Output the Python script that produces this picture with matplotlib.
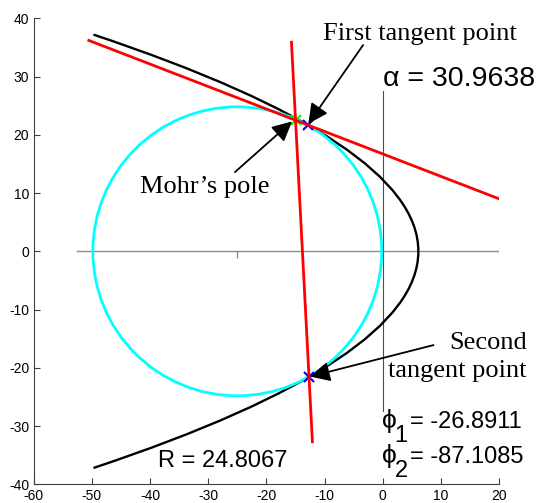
"""Mohr circle with failure envelope, tangent lines and Mohr's pole."""

import matplotlib
matplotlib.use("Agg")
import matplotlib.pyplot as plt
from matplotlib.patches import Circle, PathPatch
from matplotlib.path import Path

plt.rcParams["axes.unicode_minus"] = False

# ---- DATA ----------------------------------------------------------------
circle_center = (-25.0, 0.0)
circle_radius = 24.8067

# envelope (a parabola): its two end points and its apex
env_top = (-49.7, 37.2)
env_apex = (6.1, 0.0)
env_bottom = (-49.7, -37.2)

# red tangent lines, end points
line1_x = [-50.5, 20.5]
line1_y = [36.2, 8.8]
line2_x = [-15.7, -12.1]
line2_y = [35.9, -32.7]

tangent_x = [-12.8, -12.7]
tangent_y = [21.7, -21.5]
pole_x = [-15.0]
pole_y = [22.6]

# thin reference lines
axis_x = [-52.5, 20.0]
axis_y = [0.0, 0.0]
vline_x = [0.0, 0.0]
vline_y = [-27.5, 27.6]

alpha = 30.9638
radius_label = 24.8067
phi1 = -26.8911
phi2 = -87.1085

xticks = list(range(-60, 21, 10))
yticks = list(range(-40, 41, 10))

SANS = ["Liberation Sans", "DejaVu Sans"]
SERIF = ["Liberation Serif", "DejaVu Serif"]


def parabola_path(p0, apex, p2):
    """Quadratic Bezier through p0, apex (at t=0.5) and p2."""
    ctrl = (2 * apex[0] - 0.5 * (p0[0] + p2[0]),
            2 * apex[1] - 0.5 * (p0[1] + p2[1]))
    return Path([p0, ctrl, p2], [Path.MOVETO, Path.CURVE3, Path.CURVE3])


# ---- PLOT ----------------------------------------------------------------
fig = plt.figure(figsize=(5.38, 5.03), dpi=100)
ax = fig.add_axes([0.0623, 0.0372, 0.8658, 0.9264])

ax.plot(axis_x, axis_y, color="0.55", lw=1.0, zorder=1)
ax.plot([circle_center[0]], [circle_center[1]], marker=3, color="0.55",
        ms=5, mew=1.0, zorder=1)
ax.plot(vline_x, vline_y, color="0.3", lw=0.8, zorder=1)

ax.add_patch(PathPatch(parabola_path(env_top, env_apex, env_bottom),
                       fill=False, ec="k", lw=1.7, zorder=2))
ax.add_patch(Circle(circle_center, circle_radius, fill=False, ec="cyan",
                    lw=2.0, zorder=3))
ax.plot(tangent_x, tangent_y, "x", color="blue", ms=7, mew=1.5, zorder=4)
ax.plot(pole_x, pole_y, "x", color="#00ff00", ms=7, mew=1.5, zorder=4)
ax.plot(line1_x, line1_y, color="red", lw=2.0, zorder=5)
ax.plot(line2_x, line2_y, color="red", lw=2.0, zorder=5)

arrow = dict(arrowstyle="-|>,head_length=0.6,head_width=0.3",
             mutation_scale=20, lw=1.3, color="k", shrinkA=0, shrinkB=0)
ax.annotate("", xy=(tangent_x[0], tangent_y[0] + 0.2), xytext=(-3.4, 35.4),
            arrowprops=arrow, zorder=6)
ax.annotate("", xy=(pole_x[0] - 0.6, pole_y[0] - 0.3), xytext=(-25.4, 13.6),
            arrowprops=arrow, zorder=6)
ax.annotate("", xy=(tangent_x[1] + 0.2, tangent_y[1]), xytext=(8.7, -16.1),
            arrowprops=arrow, zorder=6)

ax.text(-10.3, 36.3, "First tangent point", family=SERIF, fontsize=19,
        va="baseline")
ax.text(-41.7, 10.0, "Mohr\u2019s pole", family=SERIF, fontsize=19,
        va="baseline")
ax.text(24.7, -16.8, "Second", family=SERIF, fontsize=19, va="baseline",
        ha="right")
ax.text(24.7, -21.6, "tangent point", family=SERIF, fontsize=19,
        va="baseline", ha="right")

ax.text(0.0, 28.4, f"\u03b1 = {alpha:.4f}", family=SANS, fontsize=20.5,
        va="baseline")
ax.text(-38.6, -37.0, f"R = {radius_label:.4f}", family=SANS, fontsize=17,
        va="baseline")
for (sub, val, yb) in [("1", phi1, -30.4), ("2", phi2, -36.4)]:
    ax.text(-0.2, yb, "\u03d5", family=SANS, fontsize=19, va="baseline")
    ax.text(2.0, yb - 2.3, sub, family=SANS, fontsize=17, va="baseline")
    ax.text(4.6, yb, f"= {val:.4f}", family=SANS, fontsize=17,
            va="baseline")

ax.set_xlim(-60, 20)
ax.set_ylim(-40, 40)
ax.set_xticks(xticks)
ax.set_yticks(yticks)
for side in ("top", "right"):
    ax.spines[side].set_visible(False)
for side in ("left", "bottom"):
    ax.spines[side].set_color("0.25")
    ax.spines[side].set_linewidth(0.8)
ax.tick_params(direction="in", length=4, width=0.8, color="0.25",
               labelsize=10, pad=3)
ax.tick_params(axis="x", pad=3.5)
for lab in ax.get_xticklabels() + ax.get_yticklabels():
    lab.set_family(SANS)

fig.savefig("out.png", dpi=100)
